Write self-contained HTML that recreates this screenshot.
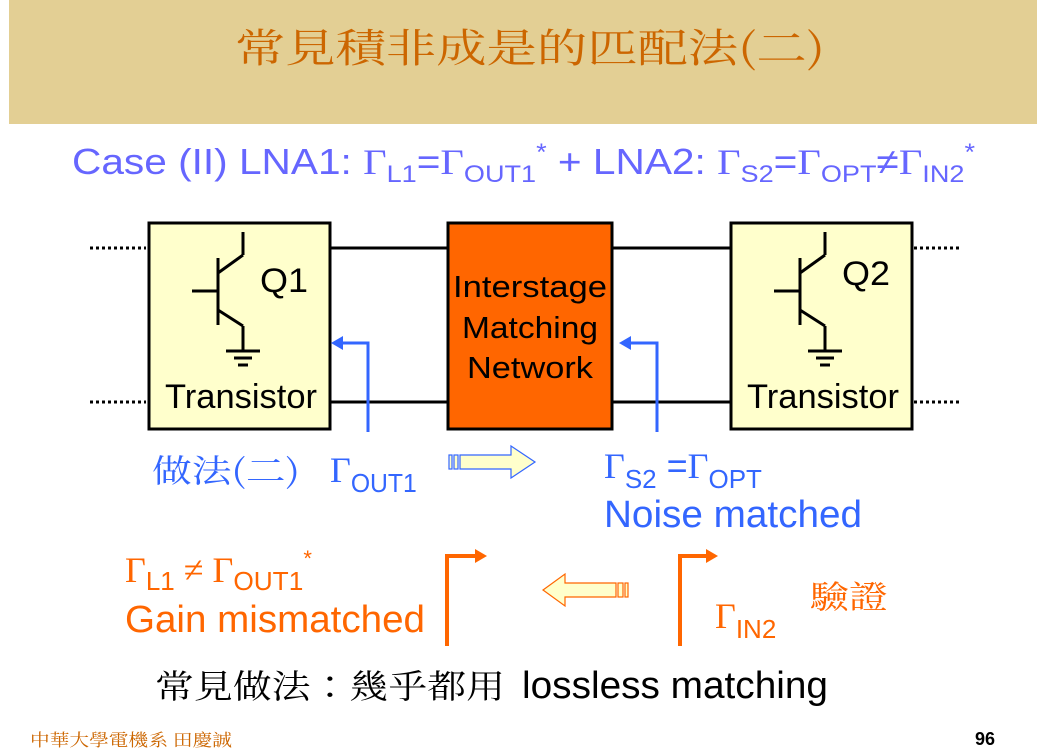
<!DOCTYPE html>
<html><head><meta charset="utf-8"><style>
html,body{margin:0;padding:0;background:#fff;}
svg{display:block}
</style></head><body>
<svg width="1037" height="755" viewBox="0 0 1037 755" xmlns="http://www.w3.org/2000/svg">
<rect x="9" y="0" width="1028" height="124" fill="#E3CF94"/>
<text x="530" y="62" text-anchor="middle" font-family="'Noto Serif CJK SC','Liberation Serif',serif" font-size="40" fill="#CC6600" textLength="590" lengthAdjust="spacingAndGlyphs">常見積非成是的匹配法(二)</text>
<text x="72" y="174" font-family="'Liberation Sans',sans-serif" font-size="36" fill="#6666FF" textLength="903" lengthAdjust="spacingAndGlyphs">Case (II) LNA1: <tspan font-family="'Liberation Serif',serif">Γ</tspan><tspan font-size="24" dy="8">L1</tspan><tspan dy="-8">=</tspan><tspan font-family="'Liberation Serif',serif">Γ</tspan><tspan font-size="24" dy="8">OUT1</tspan><tspan font-size="24" dy="-22">*</tspan><tspan dy="14"> + LNA2: </tspan><tspan font-family="'Liberation Serif',serif">Γ</tspan><tspan font-size="24" dy="8">S2</tspan><tspan dy="-8">=</tspan><tspan font-family="'Liberation Serif',serif">Γ</tspan><tspan font-size="24" dy="8">OPT</tspan><tspan dy="-8">≠</tspan><tspan font-family="'Liberation Serif',serif">Γ</tspan><tspan font-size="24" dy="8">IN2</tspan><tspan font-size="24" dy="-22">*</tspan></text>
<g stroke="#000" stroke-width="3">
<line x1="330" y1="248" x2="447" y2="248"/><line x1="330" y1="402" x2="447" y2="402"/>
<line x1="612" y1="248" x2="730" y2="248"/><line x1="612" y1="402" x2="730" y2="402"/>
</g>
<g stroke="#000" stroke-width="3" stroke-dasharray="3,3">
<line x1="90" y1="248" x2="146" y2="248"/><line x1="90" y1="402" x2="146" y2="402"/>
<line x1="914" y1="248" x2="960" y2="248"/><line x1="914" y1="402" x2="960" y2="402"/>
</g>
<rect x="149" y="223" width="181" height="206" fill="#FFFFCC" stroke="#000" stroke-width="3"/>
<rect x="448" y="223" width="164" height="206" fill="#FF6600" stroke="#000" stroke-width="3"/>
<rect x="731" y="223" width="181" height="206" fill="#FFFFCC" stroke="#000" stroke-width="3"/>
<g id="t1" stroke="#000" stroke-width="3" fill="none">
<line x1="243" y1="232" x2="243" y2="255"/><line x1="243" y1="255" x2="218" y2="273"/>
<line x1="218" y1="258" x2="218" y2="325"/><line x1="192" y1="291" x2="218" y2="291"/>
<line x1="218" y1="310" x2="243" y2="326"/><line x1="243" y1="326" x2="243" y2="351"/>
<line x1="226" y1="351" x2="260" y2="351"/><line x1="234" y1="358" x2="252" y2="358"/><line x1="238" y1="365" x2="248" y2="365"/>
</g>
<use href="#t1" x="582" y="0"/>
<g font-family="'Liberation Sans',sans-serif" font-size="34" fill="#000">
<text x="260" y="292" textLength="48" lengthAdjust="spacingAndGlyphs">Q1</text><text x="842" y="285" textLength="48" lengthAdjust="spacingAndGlyphs">Q2</text>
<text x="165" y="408" textLength="152" lengthAdjust="spacingAndGlyphs">Transistor</text>
<text x="747" y="408" textLength="152" lengthAdjust="spacingAndGlyphs">Transistor</text>
<text x="453" y="297" font-size="31" textLength="154" lengthAdjust="spacingAndGlyphs">Interstage</text>
<text x="462" y="338" font-size="31" textLength="136" lengthAdjust="spacingAndGlyphs">Matching</text>
<text x="467" y="378" font-size="31" textLength="126" lengthAdjust="spacingAndGlyphs">Network</text>
</g>
<g stroke="#3366FF" stroke-width="3" fill="none">
<polyline points="368,432 368,343 340,343"/><polyline points="657,432 657,343 628,343"/>
</g>
<polygon points="331,343 343,336 343,350" fill="#3366FF"/>
<polygon points="619,343 631,336 631,350" fill="#3366FF"/>
<g stroke="#3366FF" stroke-width="1.2" fill="#FFFFCC">
<rect x="449" y="455" width="3" height="14"/><rect x="454" y="455" width="4" height="14"/>
<polygon points="460,455 511,455 511,446 535,462 511,478 511,469 460,469"/>
</g>
<g stroke="#FF6600" stroke-width="1.2" fill="#FFFFCC">
<rect x="625" y="583" width="3" height="14"/><rect x="618" y="583" width="5" height="14"/>
<polygon points="616,583 565,583 565,574 543,590 565,606 565,597 616,597"/>
</g>
<g stroke="#FF6600" stroke-width="4" fill="none">
<polyline points="447,646 447,556 477,556"/><polyline points="680,646 680,556 708,556"/>
</g>
<polygon points="487,556 475,549 475,563" fill="#FF6600"/>
<polygon points="718,556 706,549 706,563" fill="#FF6600"/>
<text x="152" y="482" font-family="'Noto Serif CJK TC','Noto Serif CJK SC',serif" font-size="32" fill="#3366FF" textLength="148" lengthAdjust="spacingAndGlyphs">做法(二)</text>
<text x="330" y="482" font-family="'Liberation Serif',serif" font-size="36" fill="#3366FF">Γ<tspan font-family="'Liberation Sans',sans-serif" font-size="26" dy="10" textLength="66" lengthAdjust="spacingAndGlyphs">OUT1</tspan></text>
<text x="604" y="478" font-family="'Liberation Serif',serif" font-size="36" fill="#3366FF">Γ<tspan font-family="'Liberation Sans',sans-serif" font-size="26" dy="10">S2</tspan><tspan font-family="'Liberation Sans',sans-serif" dy="-10"> =</tspan>Γ<tspan font-family="'Liberation Sans',sans-serif" font-size="26" dy="10">OPT</tspan></text>
<text x="604" y="527" font-family="'Liberation Sans',sans-serif" font-size="38" fill="#3366FF" textLength="258" lengthAdjust="spacingAndGlyphs">Noise matched</text>
<text x="125" y="582" font-family="'Liberation Serif',serif" font-size="36" fill="#FF6600">Γ<tspan font-family="'Liberation Sans',sans-serif" font-size="26" dy="8">L1</tspan><tspan dy="-8"> ≠ Γ</tspan><tspan font-family="'Liberation Sans',sans-serif" font-size="26" dy="8" textLength="70" lengthAdjust="spacingAndGlyphs">OUT1</tspan><tspan font-family="'Liberation Sans',sans-serif" font-size="22" dy="-24">*</tspan></text>
<text x="125" y="632" font-family="'Liberation Sans',sans-serif" font-size="38" fill="#FF6600" textLength="300" lengthAdjust="spacingAndGlyphs">Gain mismatched</text>
<text x="715" y="628" font-family="'Liberation Serif',serif" font-size="36" fill="#FF6600">Γ<tspan font-family="'Liberation Sans',sans-serif" font-size="26" dy="10">IN2</tspan></text>
<text x="810" y="608" font-family="'Noto Serif CJK TC','Noto Serif CJK SC',serif" font-size="32" fill="#FF6600" textLength="78" lengthAdjust="spacingAndGlyphs">驗證</text>
<text x="155" y="698" font-family="'Noto Serif CJK TC',serif" font-size="33" fill="#000" textLength="350" lengthAdjust="spacingAndGlyphs">常見做法：幾乎都用</text>
<text x="522" y="698" font-family="'Liberation Sans',sans-serif" font-size="38" fill="#000" textLength="306" lengthAdjust="spacingAndGlyphs">lossless matching</text>
<text x="30" y="746" font-family="'Noto Serif CJK TC',serif" font-size="17" fill="#CC6600" textLength="202" lengthAdjust="spacingAndGlyphs">中華大學電機系 田慶誠</text>
<text x="975" y="745" font-family="'Liberation Sans',sans-serif" font-size="18" font-weight="bold" fill="#000">96</text>
</svg>
</body></html>
